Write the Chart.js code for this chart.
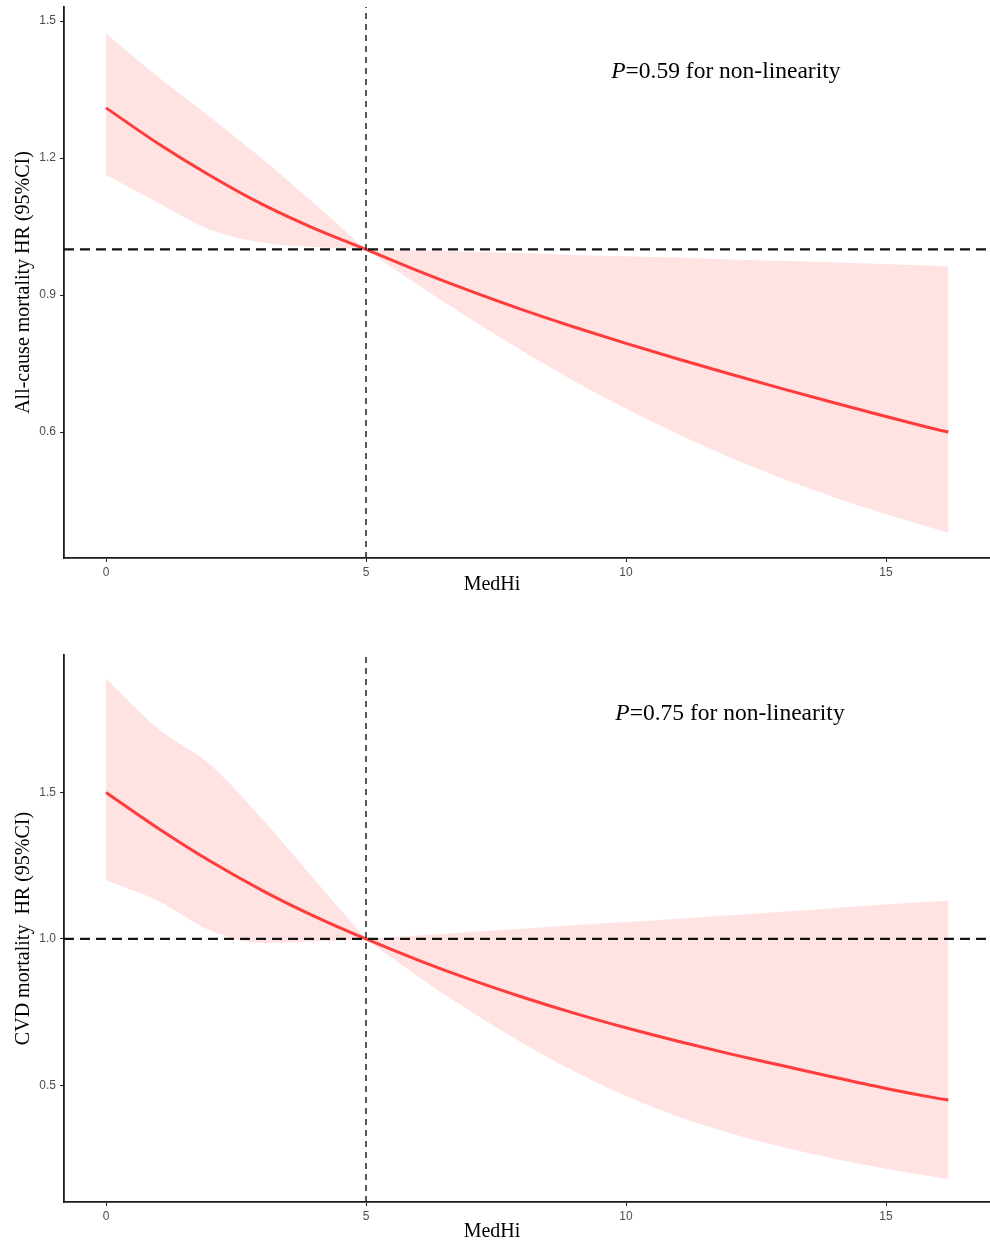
<!DOCTYPE html>
<html>
<head>
<meta charset="utf-8">
<script src="https://cdn.jsdelivr.net/npm/chart.js@4.4.0/dist/chart.umd.min.js"></script>
<style>
  html, body { margin: 0; padding: 0; background: #fff; }
  .panel { position: absolute; left: 0; width: 990px; height: 621px; }
</style>
</head>
<body>
<div class="panel" style="top:0"><canvas id="allCause" width="990" height="621"></canvas></div>
<div class="panel" style="top:621px"><canvas id="cvd" width="990" height="621"></canvas></div>
<script>
// MedHi values where the spline was evaluated
const medhi = [0, 1, 2, 3, 4, 5, 6, 7, 8, 9, 10, 11, 12, 13, 14, 15, 16, 16.2];

// all-cause mortality HR and 95% CI
const allHR    = [1.31, 1.232, 1.162, 1.099, 1.046, 1.0, 0.953, 0.909, 0.868, 0.830, 0.794, 0.760, 0.727, 0.695, 0.664, 0.634, 0.605, 0.600];
const allUpper = [1.473, 1.378, 1.290, 1.199, 1.101, 1.0, 0.998, 0.995, 0.992, 0.988, 0.985, 0.982, 0.978, 0.975, 0.972, 0.968, 0.964, 0.963];
const allLower = [1.163, 1.102, 1.043, 1.015, 1.005, 1.0, 0.922, 0.848, 0.778, 0.712, 0.651, 0.595, 0.544, 0.498, 0.457, 0.420, 0.386, 0.379];

// CVD mortality HR and 95% CI
const cvdHR    = [1.50, 1.378, 1.266, 1.166, 1.078, 1.0, 0.928, 0.862, 0.802, 0.747, 0.697, 0.651, 0.608, 0.568, 0.528, 0.490, 0.456, 0.450];
const cvdUpper = [1.888, 1.718, 1.595, 1.41, 1.205, 1.0, 1.012, 1.024, 1.035, 1.047, 1.058, 1.069, 1.081, 1.093, 1.106, 1.118, 1.129, 1.131];
const cvdLower = [1.20, 1.13, 1.029, 0.986, 0.991, 1.0, 0.872, 0.754, 0.646, 0.549, 0.464, 0.394, 0.337, 0.290, 0.250, 0.216, 0.186, 0.181];

// reference value (median) and HR = 1
const refMedhi = [5];
const refHR = [1];

const xTicks = [0, 5, 10, 15];
const allYTicks = [0.6, 0.9, 1.2, 1.5];
const cvdYTicks = [0.5, 1.0, 1.5];

const toPoints = (ys) => medhi.map((x, i) => ({ x: x, y: ys[i] }));
// the CI band pinches to zero at the reference, so draw each side on its own
const leftOf = (ys) => toPoints(ys).filter((p) => p.x <= refMedhi[0]);
const rightOf = (ys) => toPoints(ys).filter((p) => p.x >= refMedhi[0]);

const bandTop = (pts) => ({
  data: pts, borderWidth: 0, borderColor: 'rgba(0,0,0,0)',
  backgroundColor: 'rgba(255,0,0,0.11)',
  pointRadius: 0, fill: '+1', cubicInterpolationMode: 'monotone'
});
const bandBottom = (pts) => ({
  data: pts, borderWidth: 0, borderColor: 'rgba(0,0,0,0)',
  pointRadius: 0, fill: false, cubicInterpolationMode: 'monotone'
});

// axis titles and the p-value note
const textPlugin = {
  id: 'panelText',
  afterDraw(chart, args, opts) {
    const ctx = chart.ctx;
    const area = chart.chartArea;
    ctx.save();
    ctx.fillStyle = '#000';
    ctx.font = '20px "Liberation Serif", "Times New Roman", serif';
    ctx.textAlign = 'center';
    ctx.textBaseline = 'middle';

    ctx.save();
    ctx.translate(24, (area.top + area.bottom) / 2);
    ctx.rotate(-Math.PI / 2);
    ctx.fillText(opts.yTitle, 0, 0);
    ctx.restore();

    ctx.fillText('MedHi', 492, area.bottom + opts.xTitleGap);

    // note: italic P, then the rest
    const fontSize = 23.5;
    const italic = 'italic ' + fontSize + 'px "Liberation Serif", serif';
    const plain = fontSize + 'px "Liberation Serif", serif';
    ctx.font = italic;
    const wP = ctx.measureText('P').width;
    ctx.font = plain;
    const rest = '=' + opts.pValue + ' for non-linearity';
    const wRest = ctx.measureText(rest).width;
    const cx = chart.scales.x.getPixelForValue(opts.noteAt[0]);
    const cy = chart.scales.y.getPixelForValue(opts.noteAt[1]);
    const left = cx - (wP + wRest) / 2;
    ctx.textAlign = 'left';
    ctx.font = italic;
    ctx.fillText('P', left, cy);
    ctx.font = plain;
    ctx.fillText(rest, left + wP, cy);
    ctx.restore();
  }
};

function makePanel(id, hr, upper, lower, yMin, yMax, yTicks, layout, text) {
  const xMin = -0.808, xMax = 17.0;
  new Chart(document.getElementById(id), {
    type: 'line',
    data: {
      datasets: [
        {
          data: [{ x: xMin, y: refHR[0] }, { x: xMax, y: refHR[0] }],
          borderColor: '#111', borderWidth: 2.2, borderDash: [10, 6],
          pointRadius: 0, fill: false
        },
        {
          data: [{ x: refMedhi[0], y: yMin }, { x: refMedhi[0], y: yMax }],
          borderColor: '#222', borderWidth: 1.5, borderDash: [6, 5],
          pointRadius: 0, fill: false
        },
        {
          data: toPoints(hr),
          borderColor: '#FF3B3B', borderWidth: 3,
          pointRadius: 0, fill: false, cubicInterpolationMode: 'monotone'
        },
        bandTop(leftOf(upper)),
        bandBottom(leftOf(lower)),
        bandTop(rightOf(upper)),
        bandBottom(rightOf(lower))
      ]
    },
    options: {
      responsive: false,
      animation: false,
      layout: { padding: { top: layout.top, left: 0, right: 0, bottom: 0 } },
      plugins: {
        legend: { display: false },
        tooltip: { enabled: false },
        panelText: text
      },
      scales: {
        x: {
          type: 'linear',
          min: xMin, max: xMax,
          afterBuildTicks: (s) => { s.ticks = xTicks.map((v) => ({ value: v })); },
          afterFit: (s) => {
            s.height = layout.xHeight;
            s.paddingLeft = 0; s.paddingRight = 0;
          },
          ticks: {
            autoSkip: false, maxRotation: 0, padding: 3,
            color: '#4d4d4d',
            font: { family: '"Liberation Sans", Arial, sans-serif', size: 12 },
            callback: (v) => String(v)
          },
          grid: { drawOnChartArea: false, drawTicks: true, tickLength: 4, color: '#222', lineWidth: 1 },
          border: { display: true, color: '#1a1a1a', width: 1.8 }
        },
        y: {
          min: yMin, max: yMax,
          afterBuildTicks: (s) => { s.ticks = yTicks.map((v) => ({ value: v })); },
          afterFit: (s) => {
            s.width = 64;
            s.paddingTop = 0; s.paddingBottom = 0;
          },
          ticks: {
            autoSkip: false, padding: 4,
            color: '#4d4d4d',
            font: { family: '"Liberation Sans", Arial, sans-serif', size: 12 },
            callback: (v) => v.toFixed(1)
          },
          grid: { drawOnChartArea: false, drawTicks: true, tickLength: 4, color: '#222', lineWidth: 1 },
          border: { display: true, color: '#1a1a1a', width: 1.8 }
        }
      }
    },
    plugins: [textPlugin]
  });
}

makePanel('allCause', allHR, allUpper, allLower, 0.324, 1.531, allYTicks,
  { top: 7, xHeight: 63 },
  { yTitle: 'All-cause mortality HR (95%CI)', xTitleGap: 27, pValue: '0.59', noteAt: [11.92, 1.388] });

makePanel('cvd', cvdHR, cvdUpper, cvdLower, 0.1024, 1.969, cvdYTicks,
  { top: 34, xHeight: 40 },
  { yTitle: 'CVD mortality  HR (95%CI)', xTitleGap: 30, pValue: '0.75', noteAt: [12.0, 1.769] });
</script>
</body>
</html>
